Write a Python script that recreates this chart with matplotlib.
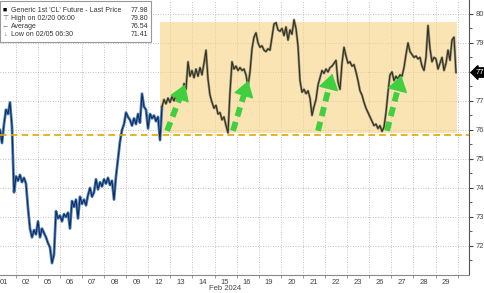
import matplotlib
matplotlib.use("Agg")
import matplotlib.pyplot as plt
from matplotlib.patches import Rectangle
import numpy as np

plt.rcParams['font.family'] = ['Liberation Sans', 'DejaVu Sans']

# --- price path, one value every ~2 px of the original chart ---
prices = [
    76.0, 75.55, 76.2, 76.7, 76.55, 76.95, 76.1, 73.85, 74.4, 74.25, 74.45,
    74.2, 74.35, 74.15, 73.3, 72.6, 72.3, 72.55, 72.4, 72.85, 72.3, 72.6,
    72.45, 72.3, 72.1, 71.95, 71.41, 71.7, 73.2, 72.95, 73.05, 72.85, 73.1,
    73.0, 73.15, 72.6, 73.55, 73.35, 73.6, 72.95, 73.7, 73.45, 73.6, 73.4,
    73.75, 74.0, 73.7, 73.85, 74.3, 73.95, 74.2, 74.05, 74.3, 74.15, 74.35,
    74.1, 74.25, 73.6, 74.4, 75.0, 75.6, 76.0, 76.2, 76.6, 76.45, 76.35,
    76.15, 76.4, 76.2, 76.55, 76.25, 77.25, 76.8, 76.7, 76.05, 76.55, 76.4,
    76.5, 76.3, 76.45, 75.65, 76.8, 77.05, 76.9, 77.1, 76.95, 77.15, 77.0,
    77.2, 77.05, 77.25, 77.1, 77.6, 77.4, 78.35, 77.85, 78.05, 77.8, 78.1,
    77.85, 78.15, 77.9, 78.3, 78.75, 77.75, 77.2, 76.95, 76.75, 76.85, 76.55,
    76.6, 76.35, 76.45, 76.15, 75.9, 77.3, 78.35, 78.1, 78.2, 78.05, 78.15,
    78.05, 78.1, 77.9, 77.5, 78.0, 78.8, 79.2, 79.35, 79.0, 78.85, 78.9,
    78.75, 78.7, 78.8, 78.75, 79.2, 79.65, 79.7, 79.45, 79.4, 79.5, 79.25,
    79.55, 79.1, 79.45, 79.3, 79.8, 79.5, 78.9, 77.7, 77.3, 77.4, 77.25,
    77.35, 77.1, 76.5, 76.8, 77.05, 77.55, 77.8, 78.05, 77.95, 78.1, 78.0,
    78.15, 78.2, 78.3, 78.4, 77.65, 77.4, 78.3, 78.85, 78.55, 78.3, 78.35,
    78.2, 78.25, 78.0, 77.7, 77.35, 77.2, 76.95, 76.75, 76.6, 76.45, 76.3,
    76.15, 76.2, 76.05, 76.15, 75.95, 76.1, 76.6, 77.3, 77.9, 78.0, 77.7,
    77.85, 77.75, 77.9, 77.85, 78.15, 78.6, 79.0, 78.7, 78.6, 78.5, 78.55,
    78.45, 78.5, 78.2, 78.05, 78.5, 79.6, 78.8, 78.35, 78.5, 78.45, 78.1,
    78.3, 78.5, 78.05, 78.3, 78.75, 78.4, 79.1, 79.2, 77.98,
]

day_labels = ["01", "02", "05", "06", "07", "08", "09", "12", "13", "14", "15",
              "16", "19", "20", "21", "22", "23", "26", "27", "28", "29"]
y_ticks = [72, 73, 74, 75, 76, 77, 78, 79, 80]

last_price = 77.98
high_price = 79.80
avg_price = 76.54
low_price = 71.41
support_level = 75.83

# highlighted range box (trading-day units / price)
box_x = [7.24, 20.68]
box_y = [75.9, 79.72]

# green dashed arrows (tail -> head)
arrow_x0 = [7.56, 10.54, 14.39, 17.51]
arrow_y0 = [75.97, 75.97, 75.97, 75.97]
arrow_x1 = [8.42, 11.27, 15.07, 18.19]
arrow_y1 = [77.66, 77.79, 78.03, 77.97]

PX_PER_DAY = 22.1
step = 2 / PX_PER_DAY
x = np.arange(len(prices)) * step
y = np.array(prices)

fig = plt.figure(figsize=(4.85, 2.93), dpi=100)
ax = fig.add_axes([0, 18 / 293, 469 / 485, 275 / 293])

ax.set_xlim(0, 469 / PX_PER_DAY)
ax.set_ylim(71.0, 80.48)

# --- grid ---
ax.set_yticks(y_ticks)
ax.set_yticks(np.arange(71.5, 80.5, 1.0), minor=True)
ax.set_yticklabels([f"{v:.2f}" for v in y_ticks])
ax.set_xticks([i + 0.18 for i in range(len(day_labels))])
ax.set_xticklabels(day_labels)
ax.set_xticks([i + 0.71 for i in range(len(day_labels))], minor=True)
ax.grid(axis="y", which="major", color="#b0b0b0", lw=0.6, ls=(0, (1, 2)), zorder=1)
ax.grid(axis="x", which="minor", color="#b0b0b0", lw=0.6, ls=(0, (1, 2)), zorder=1)

ax.yaxis.tick_right()
ax.tick_params(axis="y", which="major", length=3, width=0.8, pad=2,
               labelsize=5.5, colors="#444444")
ax.tick_params(axis="y", which="minor", length=2, width=0.6, colors="#444444")
ax.tick_params(axis="x", which="major", length=0, pad=3, labelsize=5.5,
               colors="#444444")
ax.tick_params(axis="x", which="minor", length=2, width=0.6, colors="#888888")

for side in ["top", "left"]:
    ax.spines[side].set_visible(False)
ax.spines["right"].set_color("#555555")
ax.spines["bottom"].set_color("#888888")
ax.spines["bottom"].set_linestyle((0, (2, 1)))

# --- range box (translucent, under the line) ---
ax.add_patch(Rectangle((box_x[0], box_y[0]), box_x[1] - box_x[0], box_y[1] - box_y[0],
                       facecolor="#f7d282", alpha=0.6, lw=0, zorder=2))

# --- price line: blue before the box, dark inside it ---
cut = np.searchsorted(x, box_x[0])
ax.plot(x[:cut + 1], y[:cut + 1], color="#4a7fc1", lw=2.0, zorder=3)
ax.plot(x[:cut + 1], y[:cut + 1], color="#12244a", lw=0.7, zorder=4)
ax.plot(x[cut:], y[cut:], color="#8c8566", lw=1.7, zorder=3)
ax.plot(x[cut:], y[cut:], color="#2a2a22", lw=0.7, zorder=4)

# --- support line ---
ax.axhline(support_level, color="#e0a800", lw=1.2, ls=(0, (4, 2.5)), zorder=6)

# --- green arrows ---
green = "#3fcf3f"
for x0, y0, x1, y1 in zip(arrow_x0, arrow_y0, arrow_x1, arrow_y1):
    xm = x0 + 0.78 * (x1 - x0)
    ym = y0 + 0.78 * (y1 - y0)
    ax.plot([x0, xm], [y0, ym], color=green, lw=4.2, ls=(0, (1.6, 1.0)),
            solid_capstyle="butt", dash_capstyle="butt", zorder=7)
    ax.annotate("", xy=(x1, y1), xytext=(xm, ym),
                arrowprops=dict(arrowstyle="-|>,head_length=1.0,head_width=0.65",
                                color=green, lw=1),
                zorder=7)

# --- last price tag ---
ax.annotate(f"{last_price:.2f}", xy=(1, last_price),
            xycoords=("axes fraction", "data"), xytext=(5, 0),
            textcoords="offset points", ha="left", va="center",
            fontsize=5.5, color="white", annotation_clip=False,
            bbox=dict(boxstyle="larrow,pad=0.15", fc="black", ec="black"))

fig.text(225 / 485, 1 - 289 / 293, "Feb 2024", ha="center", va="center",
         fontsize=5.5, color="#444444")

# --- legend box ---
fig.add_artist(Rectangle((0, 1 - 42 / 293), 151 / 485, 41 / 293,
                         transform=fig.transFigure, facecolor="white",
                         edgecolor="#999999", lw=0.8, zorder=10))

rows = [
    ("■", "Generic 1st 'CL' Future - Last Price", last_price, "black"),
    ("⊤", "High on 02/20 06:00", high_price, "#666666"),
    ("←", "Average", avg_price, "#666666"),
    ("↓", "Low on 02/05 06:30", low_price, "#666666"),
]
row_y = [10, 18, 26, 34]
for (sym, label, val, sym_color), ypx in zip(rows, row_y):
    yf = 1 - ypx / 293
    fig.text(5 / 485, yf, sym, ha="center", va="center", fontsize=5,
             color=sym_color, zorder=11)
    fig.text(11 / 485, yf, label, ha="left", va="center", fontsize=5,
             color="#333333", zorder=11)
    fig.text(148 / 485, yf, f"{val:.2f}", ha="right", va="center", fontsize=5,
             color="#333333", zorder=11)

fig.savefig("out.png", dpi=100)
